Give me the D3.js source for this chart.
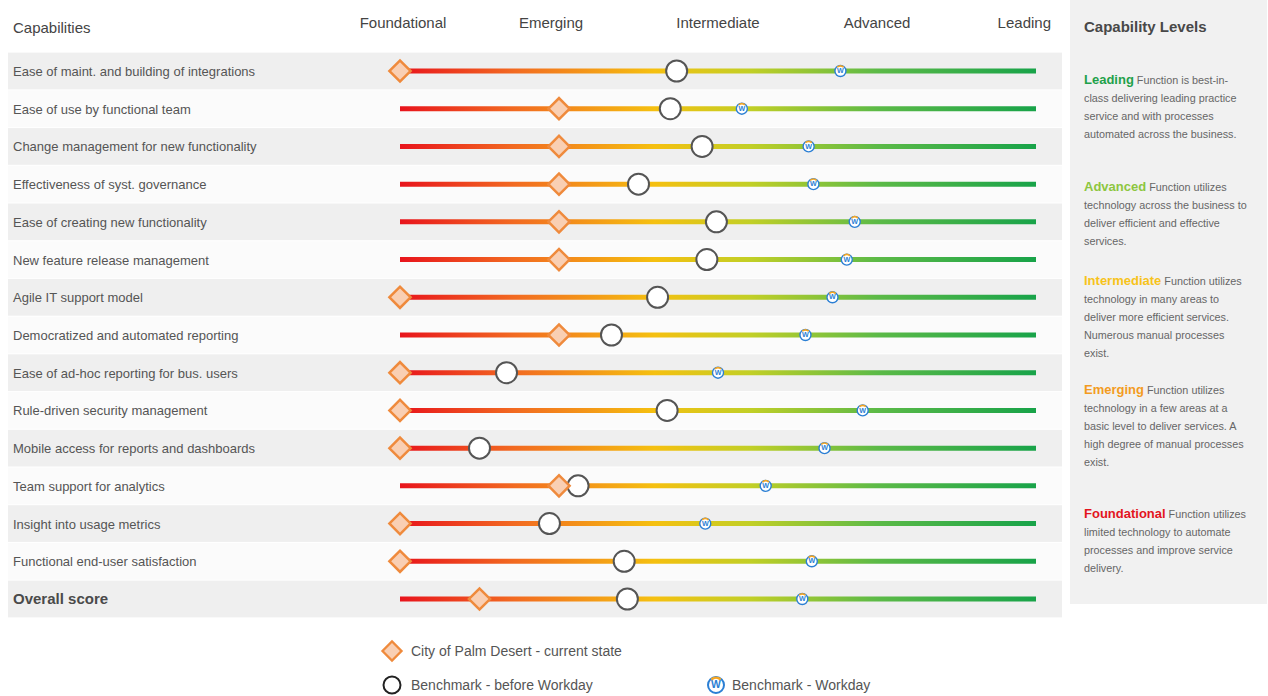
<!DOCTYPE html>
<html>
<head>
<meta charset="utf-8">
<script src="https://cdn.jsdelivr.net/npm/d3@7"></script>
<style>
  body { margin: 0; background: #fff; }
  svg { font-family: "Liberation Sans", Arial, sans-serif; }
</style>
</head>
<body>
<div id="chart"></div>
<script>
const capabilities = [
  "Ease of maint. and building of integrations",
  "Ease of use by functional team",
  "Change management for new functionality",
  "Effectiveness of syst. governance",
  "Ease of creating new functionality",
  "New feature release management",
  "Agile IT support model",
  "Democratized and automated reporting",
  "Ease of ad-hoc reporting for bus. users",
  "Rule-driven security management",
  "Mobile access for reports and dashboards",
  "Team support for analytics",
  "Insight into usage metrics",
  "Functional end-user satisfaction",
  "Overall score"
];
const currentState = [1.0, 2.0, 2.0, 2.0, 2.0, 2.0, 1.0, 2.0, 1.0, 1.0, 1.0, 2.0, 1.0, 1.0, 1.5];
const beforeWorkday = [2.74, 2.7, 2.9, 2.5, 2.99, 2.93, 2.62, 2.33, 1.67, 2.68, 1.5, 2.12, 1.94, 2.41, 2.43];
const withWorkday = [3.77, 3.15, 3.57, 3.6, 3.86, 3.81, 3.72, 3.55, 3.0, 3.91, 3.67, 3.3, 2.92, 3.59, 3.53];
const levels = ["Foundational", "Emerging", "Intermediate", "Advanced", "Leading"];
const levelColors = ["#e3141e", "#f39c1f", "#f7c31a", "#8dc63f", "#1fa14a"];
const levelText = [
  ["Function utilizes", "limited technology to automate", "processes and improve service", "delivery."],
  ["Function utilizes", "technology in a few areas at a", "basic level to deliver services. A", "high degree of manual processes", "exist."],
  ["Function utilizes", "technology in many areas to", "deliver more efficient services.", "Numerous manual processes", "exist."],
  ["Function utilizes", "technology across the business to", "deliver efficient and effective", "services."],
  ["Function is best-in-", "class delivering leading practice", "service and with processes", "automated across the business."]
];

const W = 1268, H = 696;
const svg = d3.select("#chart").append("svg").attr("width", W).attr("height", H);

const x = d3.scaleLinear().domain([1, 5]).range([400, 1036]);
const y = d3.scalePoint().domain(capabilities).range([71, 599]);
const step = y.step();

// gradient for the bars
const grad = svg.append("defs").append("linearGradient")
  .attr("id", "lvl").attr("gradientUnits", "userSpaceOnUse")
  .attr("x1", x(1)).attr("x2", x(5)).attr("y1", 0).attr("y2", 0);
[[0, "#e8141c"], [0.18, "#f26a21"], [0.4, "#f5c010"], [0.55, "#c2cf26"], [0.75, "#5cba47"], [1, "#18a349"]]
  .forEach(([o, c]) => grad.append("stop").attr("offset", o).attr("stop-color", c));

// row bands
svg.selectAll("rect.band").data(capabilities).join("rect")
  .attr("class", "band")
  .attr("x", 8).attr("width", 1054)
  .attr("y", d => y(d) - step / 2 + 0.5).attr("height", step - 1)
  .attr("fill", (d, i) => i % 2 === 0 ? "#efefef" : "#fbfbfb");

// header
svg.append("text").attr("x", 13).attr("y", 33).attr("font-size", 15).attr("fill", "#444").text("Capabilities");
svg.selectAll("text.lvl").data(levels).join("text")
  .attr("class", "lvl")
  .attr("x", (d, i) => i === 4 ? x(5) + 15 : x(i + 1) + (i === 1 ? -8 : 0) + (i === 0 ? 3 : 0))
  .attr("y", 28)
  .attr("text-anchor", (d, i) => i === 4 ? "end" : "middle")
  .attr("font-size", 15).attr("fill", "#444")
  .text(d => d);

// row labels
svg.selectAll("text.cap").data(capabilities).join("text")
  .attr("class", "cap")
  .attr("x", 13).attr("y", d => y(d) + 5)
  .attr("font-size", (d, i) => i === capabilities.length - 1 ? 15 : 13)
  .attr("font-weight", (d, i) => i === capabilities.length - 1 ? "bold" : "normal")
  .attr("fill", (d, i) => i === capabilities.length - 1 ? "#4a4a4a" : "#555")
  .text(d => d);

// bars
svg.selectAll("line.bar").data(capabilities).join("line")
  .attr("class", "bar")
  .attr("x1", x(1)).attr("x2", x(5))
  .attr("y1", d => y(d)).attr("y2", d => y(d))
  .attr("stroke", "url(#lvl)").attr("stroke-width", 5);

function workdayIcon(g, r) {
  g.append("circle").attr("r", r).attr("fill", "#fff").attr("stroke", "#2b7fd4").attr("stroke-width", r / 4);
  g.append("text").attr("y", r * 0.4).attr("text-anchor", "middle")
    .attr("font-size", r * 1.3).attr("font-weight", "bold").attr("fill", "#2b7fd4").text("W");
  g.append("path").attr("d", d3.arc()({ innerRadius: r * 0.75, outerRadius: r * 1.05, startAngle: -0.7, endAngle: 0.7 }))
    .attr("fill", "#f5a623");
}

// workday benchmark
svg.selectAll("g.wd").data(capabilities).join("g")
  .attr("class", "wd")
  .attr("transform", (d, i) => `translate(${x(withWorkday[i])},${y(d)})`)
  .each(function () { workdayIcon(d3.select(this), 5.5); });

// before workday
svg.selectAll("circle.bw").data(capabilities).join("circle")
  .attr("class", "bw")
  .attr("cx", (d, i) => x(beforeWorkday[i])).attr("cy", d => y(d))
  .attr("r", 10.5).attr("fill", "#fff").attr("stroke", "#555").attr("stroke-width", 2);

// current state
const diamond = d3.symbol().type(d3.symbolSquare).size(225);
svg.selectAll("path.cs").data(capabilities).join("path")
  .attr("class", "cs")
  .attr("d", diamond)
  .attr("transform", (d, i) => `translate(${x(currentState[i])},${y(d)}) rotate(45)`)
  .attr("fill", "#f9cfb3").attr("stroke", "#ef8a3c").attr("stroke-width", 2.5);

// right panel
const px = 1070;
svg.append("rect").attr("x", px).attr("y", 0).attr("width", 197).attr("height", 604).attr("fill", "#f1f1f1");
svg.append("text").attr("x", 1084).attr("y", 32).attr("font-size", 15).attr("font-weight", "bold")
  .attr("fill", "#484848").text("Capability Levels");

const blockY = [514, 390, 281, 187, 80];
levels.forEach((lvl, i) => {
  const t = svg.append("text").attr("x", 1084).attr("y", blockY[i] + 4).attr("font-size", 10.8).attr("fill", "#666");
  t.append("tspan").attr("font-size", 13).attr("font-weight", "bold").attr("fill", levelColors[i]).text(lvl);
  levelText[i].forEach((line, j) => {
    const s = t.append("tspan").text(j === 0 ? " " + line : line);
    if (j > 0) s.attr("x", 1084).attr("dy", 18);
  });
});

// legend
const lg = svg.append("g").attr("font-size", 14).attr("fill", "#555");
lg.append("path").attr("d", diamond)
  .attr("transform", "translate(392,651) rotate(45) scale(0.9)")
  .attr("fill", "#f9cfb3").attr("stroke", "#ef8a3c").attr("stroke-width", 2.5);
lg.append("text").attr("x", 411).attr("y", 656).text("City of Palm Desert - current state");
lg.append("circle").attr("cx", 392).attr("cy", 685).attr("r", 8.5).attr("fill", "#fff").attr("stroke", "#222").attr("stroke-width", 2);
lg.append("text").attr("x", 411).attr("y", 690).text("Benchmark - before Workday");
workdayIcon(lg.append("g").attr("transform", "translate(716,685)"), 8);
lg.append("text").attr("x", 732).attr("y", 690).text("Benchmark - Workday");
</script>
</body>
</html>
